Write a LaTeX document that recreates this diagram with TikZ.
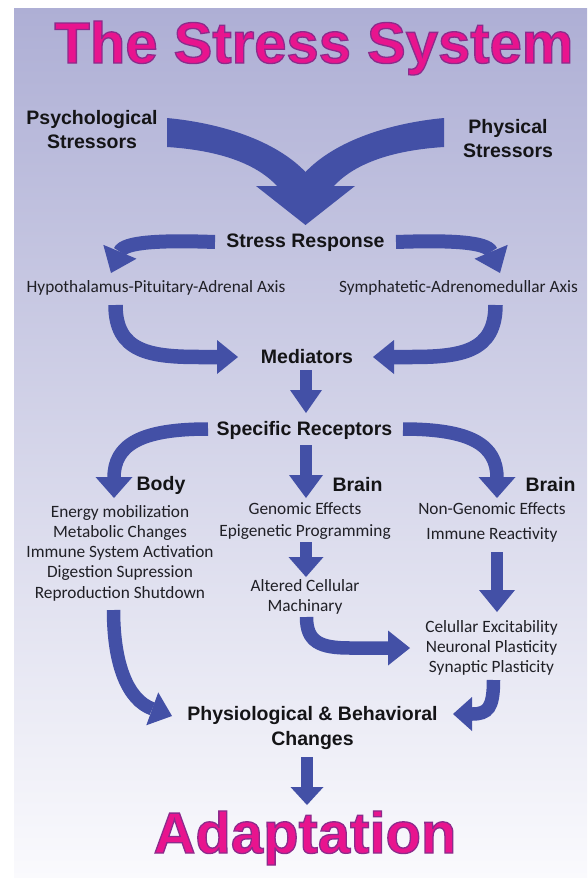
\documentclass[tikz,border=0pt]{standalone}
\usepackage{fontspec}
\setmainfont{Liberation Sans}
\newfontfamily\smallfont{Carlito}
\usetikzlibrary{arrows.meta}
\definecolor{bgtop}{RGB}{174,175,213}
\definecolor{bgbot}{RGB}{250,250,253}
\definecolor{arrowblue}{RGB}{67,80,166}
\definecolor{titlepink}{RGB}{232,20,142}
\definecolor{labelink}{RGB}{20,20,22}
\definecolor{smallink}{RGB}{32,32,38}
\newcommand\ttlout[1]{\special{pdf:code 2 Tr 1.3 w 0.55 0.17 0.55 RG}#1\special{pdf:code 0 Tr}}
\begin{document}
\begin{tikzpicture}[x=1pt,y=-1pt,
  every node/.style={inner sep=0pt},
  lbl/.style={font=\bfseries\fontsize{19.5}{24}\selectfont, text=labelink, align=center},
  sml/.style={font=\smallfont\fontsize{17.3}{20.3}\selectfont, text=smallink, align=center},
  ttl/.style={font=\bfseries\fontsize{58}{60}\selectfont, anchor=base, text=titlepink},
  band/.style={draw=arrowblue, line width=13.5pt, line cap=butt},
  shaft/.style={draw=arrowblue, line width=12pt, line cap=butt}]
\useasboundingbox (0,0) rectangle (587,878);
\fill[white] (0,0) rectangle (587,878);
\shade[top color=bgtop, bottom color=bgbot] (14,8) rectangle (587,878);

% texts
\node[ttl] (title) at (314,63) {\ttlout{The Stress System}};
\node[lbl] (psy) at (92,130) {Psychological\\Stressors};
\node[lbl] (phy) at (508,138.5) {Physical\\Stressors};
\node[lbl] (sr) at (305.5,243) {Stress Response};
\node[sml] (hpa) at (156,288) {Hypothalamus-Pituitary-Adrenal Axis};
\node[sml] (sam) at (458.5,288) {Symphatetic-Adrenomedullar Axis};
\node[lbl] (med) at (307,357) {Mediators};
\node[lbl] (spr) at (304.5,430) {Specific Receptors};
\node[lbl] (body) at (161,485) {Body};
\node[lbl] (brainc) at (357.5,485) {Brain};
\node[lbl] (brainr) at (550.5,485) {Brain};
\node[sml] (bodyl) at (120,553) {Energy mobilization\\Metabolic Changes\\Immune System Activation\\Digestion Supression\\Reproduction Shutdown};
\node[sml, font=\smallfont\fontsize{17.3}{21.5}\selectfont] (gen) at (305,521) {Genomic Effects\\Epigenetic Programming};
\node[sml] (alt) at (305,597) {Altered Cellular\\Machinary};
\node[sml, font=\smallfont\fontsize{17.3}{25}\selectfont] (nong) at (492,522.5) {Non-Genomic Effects\\Immune Reactivity};
\node[sml] (cel) at (491.5,648) {Celullar Excitability\\Neuronal Plasticity\\Synaptic Plasticity};
\node[lbl, font=\bfseries\fontsize{19.5}{25}\selectfont] (pbc) at (312.5,727.5) {Physiological \& Behavioral\\Changes};
\node[ttl] (adapt) at (305,853) {\ttlout{Adaptation}};

% big merging arrow
\fill[arrowblue] (167,118) .. controls (220,123) and (275,140) .. (305.5,172)
  .. controls (336,140) and (391,123) .. (444,118) -- (444,147)
  .. controls (396,150) and (356,162) .. (334,186) -- (355,186) -- (305.5,225)
  -- (256,186) -- (277,186) .. controls (255,162) and (215,150) .. (167,147) -- cycle;

% connector end points
\coordinate (a1s) at (215,242); \coordinate (a1e) at (111,273);
\coordinate (a2s) at (396,242); \coordinate (a2e) at (500,273);
\coordinate (a3s) at (115.5,305); \coordinate (a3e) at (238,357);
\coordinate (a4s) at (495.5,305); \coordinate (a4e) at (373,357);
\coordinate (a5s) at (306,370); \coordinate (a5e) at (306,413);
\coordinate (a6s) at (208,429); \coordinate (a6e) at (114,498);
\coordinate (a7s) at (403,429); \coordinate (a7e) at (497,498);
\coordinate (a8s) at (306,445); \coordinate (a8e) at (306,498);
\coordinate (a9s) at (306,542); \coordinate (a9e) at (306,577);
\coordinate (a10s) at (497,552); \coordinate (a10e) at (497,612);
\coordinate (a11s) at (306.5,617); \coordinate (a11e) at (410,648);
\coordinate (a12s) at (113.5,610); \coordinate (a12e) at (172,716);
\coordinate (a13s) at (493.5,680); \coordinate (a13e) at (453,714);
\coordinate (a14s) at (307,757); \coordinate (a14e) at (307,805);

\draw[band, line width=14pt, -{Triangle[width=36pt,length=23pt,line width=0pt]}] (a1s) .. controls (160,240) and (124,242) .. (a1e);
\draw[band, line width=14pt, -{Triangle[width=36pt,length=23pt,line width=0pt]}] (a2s) .. controls (451,240) and (487,242) .. (a2e);
\draw[band, line width=14.5pt, -{Triangle[width=34pt,length=21pt,line width=0pt]}] (a3s) .. controls (115.5,352) and (150,357) .. (200,357) -- (a3e);
\draw[band, line width=14.5pt, -{Triangle[width=34pt,length=21pt,line width=0pt]}] (a4s) .. controls (495.5,352) and (461,357) .. (411,357) -- (a4e);
\draw[shaft, -{Triangle[width=32pt,length=23pt,line width=0pt]}] (a5s) -- (a5e);
\draw[band, -{Triangle[width=37pt,length=21pt,line width=0pt]}] (a6s) .. controls (140,429) and (114,445) .. (114,478) -- (a6e);
\draw[band, -{Triangle[width=37pt,length=21pt,line width=0pt]}] (a7s) .. controls (471,429) and (497,445) .. (497,478) -- (a7e);
\draw[shaft, -{Triangle[width=34pt,length=23pt,line width=0pt]}] (a8s) -- (a8e);
\draw[shaft, -{Triangle[width=35pt,length=20pt,line width=0pt]}] (a9s) -- (a9e);
\draw[shaft, -{Triangle[width=36pt,length=22pt,line width=0pt]}] (a10s) -- (a10e);
\draw[band, -{Triangle[width=35pt,length=22pt,line width=0pt]}] (a11s) .. controls (306.5,642) and (320,648) .. (350,648) -- (a11e);
\draw[band, -{Triangle[width=35pt,length=21pt,line width=0pt]}] (a12s) .. controls (113.5,665) and (128,700) .. (a12e);
\draw[band, -{Triangle[width=34pt,length=19pt,line width=0pt]}] (a13s) .. controls (493.5,708) and (488,714) .. (a13e);
\draw[shaft, -{Triangle[width=33pt,length=18pt,line width=0pt]}] (a14s) -- (a14e);
\end{tikzpicture}
\end{document}
